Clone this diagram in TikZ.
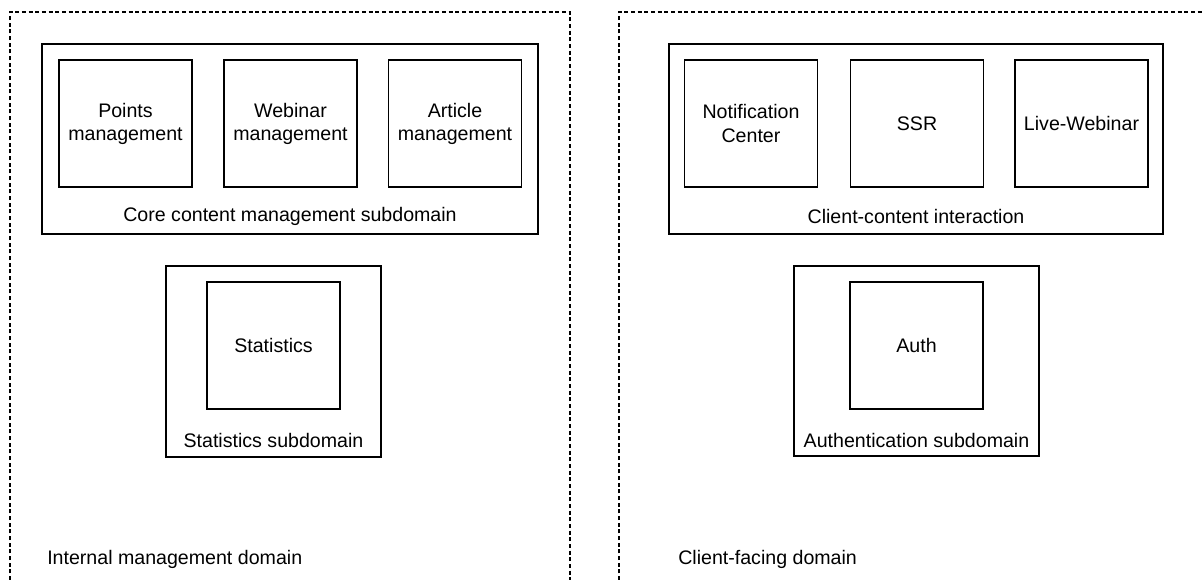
\documentclass[tikz,border=0pt]{standalone}
\usepackage{fontspec}
\setmainfont{Liberation Sans}
\begin{document}
\begin{tikzpicture}[x=0.75pt,y=-0.75pt,
  every node/.style={font=\fontsize{14.7pt}{17.3pt}\selectfont},
  box/.style={draw, line width=1.1pt, rectangle, inner sep=0pt, align=center, anchor=center},
  svc/.style={box, minimum width=99.5pt, minimum height=95.25pt},
  group/.style={box},
  domainline/.style={draw, line width=0.8pt, dash pattern=on 3pt off 2pt},
  caption/.style={inner sep=0pt, anchor=center},
  domcaption/.style={inner sep=0pt, anchor=west}]
\useasboundingbox (0,0) rectangle (1203,579);
\clip (0,0) rectangle (1203,579);

% domains (open at the bottom / right edge)
\draw[domainline] (10,600) -- (10,12) -- (570,12) -- (570,600);
\draw[domainline] (619,600) -- (619,12) -- (1220,12);
\node[domcaption] (intlabel) at (47,559) {Internal management domain};
\node[domcaption] (cltlabel) at (678,559) {Client-facing domain};

% core content management subdomain
\node[group, minimum width=372pt, minimum height=142.5pt] (core) at (290,139) {};
\node[svc] (points) at (125.5,123.5) {Points\\management};
\node[svc] (webinar) at (290.5,123.5) {Webinar\\management};
\node[svc] (article) at (455,123.5) {Article\\management};
\node[caption] (corelabel) at (290,216) {Core content management subdomain};

% statistics subdomain
\node[group, minimum width=161.25pt, minimum height=143.25pt] (statsdom) at (273.5,361.5) {};
\node[svc] (stats) at (273.5,345.5) {Statistics};
\node[caption] (statslabel) at (273.5,440) {Statistics subdomain};

% client-content interaction
\node[group, minimum width=370.5pt, minimum height=142.5pt] (client) at (916,139) {};
\node[svc] (notif) at (751,123.5) {Notification\\Center};
\node[svc] (ssr) at (917,123.5) {SSR};
\node[svc] (live) at (1081.5,123.5) {Live-Webinar};
\node[caption] (clientlabel) at (916,216) {Client-content interaction};

% authentication subdomain
\node[group, minimum width=183.75pt, minimum height=142.5pt] (authdom) at (916.5,361) {};
\node[svc] (auth) at (916.5,345.5) {Auth};
\node[caption] (authlabel) at (916.5,440) {Authentication subdomain};
\end{tikzpicture}
\end{document}
